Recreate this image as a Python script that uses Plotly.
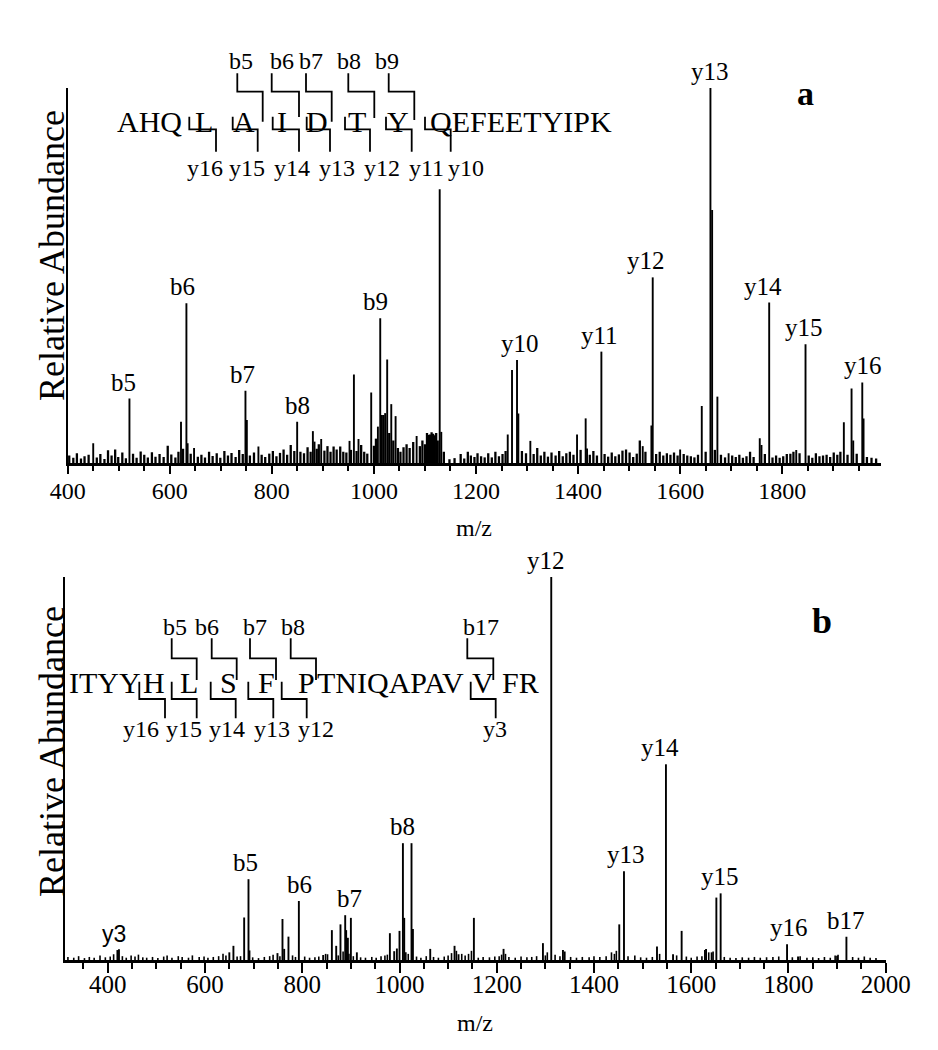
import plotly.graph_objects as go

# ---------------- Panel a data ----------------
a_peak_mz = [450, 521, 622, 632.6, 635, 647.6, 748.3, 751, 773.7, 849.6, 880.4, 883.6, 896.7,
             952.2, 960.8, 969.8, 994.7, 1007.8, 1012.4, 1015.7, 1018.8, 1022, 1026, 1034, 1042.5,
             1083.7, 1128.9, 1132, 1262.2, 1270.6, 1280.4, 1283, 1306.5, 1398, 1414.9, 1417.6,
             1445.7, 1526.7, 1543.7, 1546.3, 1600, 1642.4, 1659.4, 1662.7, 1673, 1695, 1756,
             1759.4, 1774.5, 1827.5, 1845.7, 1920.8, 1935.9, 1939.2, 1956.9, 1959.4]
a_peak_int = [5.3, 17.2, 11.0, 42.6, 5.3, 4.0, 19.3, 11.5, 4.4, 11.0, 8.5, 5.7, 6.4,
              5.9, 23.6, 6.4, 18.8, 9.7, 38.6, 12.8, 12.8, 13.3, 27.6, 15.7, 12.5,
              7.2, 73.0, 8.3, 7.6, 24.8, 27.5, 13.2, 5.9, 7.6, 11.9, 3.9,
              29.7, 4.5, 10.0, 49.5, 3.6, 15.2, 100.0, 67.5, 17.7, 2.6, 6.6,
              4.8, 42.8, 3.5, 31.7, 10.9, 19.9, 6.0, 21.5, 11.9]
a_noise_mz = [403, 411, 418, 426, 433, 441, 457, 464, 472, 479, 486, 493, 499, 507, 514, 528, 535,
              543, 550, 557, 565, 572, 580, 588, 596, 603, 611, 617, 626, 641, 655, 662, 669, 677,
              684, 692, 699, 707, 714, 721, 729, 736, 743, 757, 765, 780, 787, 795, 802, 809, 816,
              823, 830, 837, 844, 856, 863, 870, 876, 888, 892, 903, 909, 915, 921, 927, 934, 940,
              946, 955, 966, 975, 981, 987, 1000, 1004, 1030, 1038, 1047, 1052, 1058, 1064, 1070,
              1077, 1090, 1095, 1100, 1104, 1107, 1110, 1113, 1116, 1119, 1122, 1125, 1137, 1148,
              1158, 1170, 1177, 1184, 1190, 1197, 1203, 1210, 1217, 1224, 1231, 1238, 1245, 1252,
              1258, 1290, 1298, 1313, 1320, 1327, 1334, 1341, 1348, 1356, 1363, 1370, 1377, 1384,
              1391, 1405, 1423, 1430, 1437, 1452, 1459, 1466, 1473, 1480, 1487, 1494, 1501, 1508,
              1515, 1521, 1532, 1553, 1560, 1567, 1574, 1581, 1588, 1595, 1607, 1614, 1621, 1628,
              1635, 1650, 1668, 1680, 1688, 1702, 1709, 1716, 1723, 1730, 1737, 1744, 1766, 1781,
              1788, 1795, 1802, 1809, 1816, 1822, 1834, 1852, 1859, 1866, 1873, 1880, 1887, 1894,
              1901, 1908, 1914, 1928, 1946, 1966, 1975, 1984]
a_noise_int = [2.0, 1.4, 2.6, 1.2, 1.8, 2.2, 1.5, 2.4, 1.1, 3.4, 2.0, 3.6, 1.6, 2.8, 1.3, 2.5, 1.4,
               3.1, 2.2, 1.5, 2.9, 1.7, 2.4, 1.6, 4.6, 2.3, 1.5, 3.0, 3.8, 2.5, 1.7, 2.2, 1.5, 3.0,
               1.9, 2.6, 1.4, 3.2, 2.0, 2.7, 1.6, 3.5, 2.4, 2.0, 2.8, 2.2, 1.6, 2.5, 3.2, 1.8, 2.7,
               3.6, 2.2, 4.8, 3.2, 3.0, 2.6, 4.2, 3.0, 3.8, 5.0, 3.3, 4.5, 3.0, 4.4, 3.6, 4.4, 3.0,
               2.8, 3.5, 3.2, 4.8, 3.0, 2.5, 4.6, 6.5, 8.0, 6.0, 4.0, 3.0, 4.2, 5.0, 4.0,
               5.6, 4.5, 6.0, 5.0, 8.0, 7.5, 7.6, 8.2, 7.8, 7.4, 8.0, 6.0, 3.0, 1.0,
               1.3, 2.4, 1.2, 3.0, 2.0, 1.6, 2.6, 1.8, 1.5, 2.6, 1.5, 3.0, 1.8, 2.4,
               3.2, 3.2, 2.6, 2.4, 4.0, 2.0, 3.0, 1.7, 2.8, 2.0, 3.2, 1.8, 2.6, 3.0,
               2.2, 3.5, 2.2, 3.2, 2.0, 2.4, 1.7, 2.8, 1.8, 2.3, 3.3, 3.6, 2.8, 1.6,
               2.5, 6.0, 3.0, 2.4, 3.0, 2.0, 2.6, 2.2, 2.8, 2.0, 2.4, 2.0, 1.8, 1.5,
               2.2, 3.0, 3.5, 2.2, 1.5, 2.0, 1.6, 2.2, 1.4, 1.8, 3.0, 1.6, 2.4, 1.5,
               2.0, 1.4, 1.8, 2.4, 2.5, 3.0, 2.6, 2.0, 1.4, 2.6, 1.8, 2.0, 2.2, 1.6,
               2.8, 2.2, 3.0, 2.2, 2.5, 1.6, 1.4, 1.2]
a_labels = ["b5", "b6", "b7", "b8", "b9", "y10", "y11", "y12", "y13", "y14", "y15", "y16"]
a_label_mz = [521, 632.6, 748.3, 849.6, 1012.4, 1280.4, 1445.7, 1546.3, 1659.4, 1774.5, 1845.7, 1956.9]
a_ticks = [400, 600, 800, 1000, 1200, 1400, 1600, 1800]

# ---------------- Panel b data ----------------
b_peak_mz = [419.8, 423, 650, 658.4, 680.5, 689.4, 691.4, 749, 759.3, 762.8, 771.6, 793, 843,
             860.9, 869.8, 878.6, 888.3, 890.3, 893.8, 900, 912.3, 980.2, 989.1, 994.6, 1000,
             1007, 1009.7, 1024.7, 1027.6, 1063.2, 1113.2, 1121.4, 1153, 1214, 1295, 1312.1,
             1336.2, 1452, 1461.7, 1529.6, 1548, 1562.6, 1580.3, 1630.5, 1642, 1651.7, 1660.5,
             1797.1, 1819.7, 1900, 1919.2]
b_peak_int = [2.6, 2.8, 2.0, 3.7, 11.1, 21.1, 2.5, 1.8, 10.7, 2.9, 6.1, 15.4, 1.3,
              7.8, 3.7, 9.3, 11.7, 7.8, 5.8, 11.0, 2.0, 7.0, 2.3, 3.0, 7.6,
              30.5, 11.0, 30.5, 8.1, 2.9, 3.7, 1.5, 11.0, 2.9, 4.4, 100.0,
              2.6, 9.3, 23.2, 3.5, 51.1, 1.5, 7.6, 2.9, 2.0, 16.3, 17.4,
              4.1, 0.9, 1.1, 6.1]
b_noise_mz = [318, 330, 340, 352, 362, 372, 384, 395, 405, 412, 430, 438, 448, 456, 463, 472, 480,
              492, 503, 515, 522, 532, 545, 553, 566, 574, 588, 598, 606, 617, 628, 637, 643, 666,
              673, 698, 710, 722, 733, 740, 754, 780, 786, 805, 815, 826, 834, 848, 852, 874, 884,
              896, 905, 920, 930, 943, 952, 962, 970, 975, 1013, 1018, 1035, 1044, 1055, 1070, 1080,
              1092, 1100, 1107, 1117, 1128, 1135, 1142, 1148, 1162, 1172, 1185, 1196, 1205, 1210,
              1218, 1225, 1238, 1250, 1262, 1272, 1282, 1300, 1304, 1320, 1330, 1340, 1352, 1364,
              1376, 1390, 1400, 1412, 1425, 1436, 1442, 1446, 1470, 1484, 1496, 1508, 1520, 1535,
              1570, 1590, 1600, 1612, 1622, 1628, 1636, 1645, 1668, 1680, 1692, 1705, 1718, 1730,
              1742, 1755, 1768, 1780, 1808, 1824, 1838, 1850, 1862, 1874, 1886, 1896, 1902, 1932,
              1944, 1956, 1968, 1980]
b_noise_int = [0.8, 0.6, 1.0, 0.5, 0.8, 0.6, 1.2, 0.7, 0.9, 1.5, 1.0, 0.6, 1.2, 0.9, 1.4, 0.7, 0.6,
               0.8, 0.5, 0.9, 1.2, 0.6, 1.0, 0.8, 0.6, 1.2, 0.8, 0.9, 0.6, 0.8, 1.0, 1.6, 1.2, 0.9,
               1.0, 0.7, 0.5, 0.8, 1.0, 1.4, 1.0, 1.2, 0.8, 0.9, 0.6, 0.7, 0.9, 1.6, 1.5, 1.2, 2.2,
               1.6, 1.0, 0.7, 0.6, 0.8, 0.6, 1.0, 1.2, 1.4, 2.0, 1.6, 0.9, 0.6, 1.0, 0.8, 0.6,
               0.9, 1.2, 1.8, 2.4, 1.6, 1.2, 1.6, 2.4, 0.6, 0.8, 0.7, 0.9, 1.0, 1.4,
               1.6, 0.8, 0.6, 0.9, 0.7, 0.8, 1.0, 1.2, 2.0, 1.4, 1.0, 2.2, 0.8, 0.6,
               0.8, 0.7, 1.0, 0.8, 1.0, 2.0, 1.6, 2.4, 1.0, 1.2, 0.7, 0.6, 0.8, 1.6,
               1.2, 0.9, 0.6, 0.9, 1.0, 2.6, 2.0, 2.2, 0.8, 0.6, 0.5, 0.7, 0.6, 0.8,
               0.6, 0.7, 0.8, 0.9, 0.7, 1.0, 0.6, 0.7, 0.5, 0.8, 0.6, 1.2, 1.4, 0.8,
               0.6, 0.9, 0.6, 0.5]
b_labels = ["y3", "b5", "b6", "b7", "b8", "y12", "y13", "y14", "y15", "y16", "b17"]
b_label_mz = [419.8, 689.4, 793, 888.3, 1007, 1312.1, 1461.7, 1548, 1660.5, 1797.1, 1919.2]
b_ticks = [400, 600, 800, 1000, 1200, 1400, 1600, 1800, 2000]

# ---------------- sequence diagrams ----------------
seq_a_text = ["AHQ", "L", "A", "I", "D", "T", "Y", "QEFEETYIPK"]
seq_b_text = ["ITYY", "H", "L", "S", "F", "P", "TNIQAPAV", "V", "FR"]
seq_a_b_ions = ["b5", "b6", "b7", "b8", "b9"]
seq_a_y_ions = ["y16", "y15", "y14", "y13", "y12", "y11", "y10"]
seq_b_b_ions = ["b5", "b6", "b7", "b8", "b17"]
seq_b_y_ions = ["y16", "y15", "y14", "y13", "y12", "y3"]

# ---------------- layout geometry (screen pixels) ----------------
SERIF = "Liberation Serif"
SANS = "Liberation Sans"
OFF = 8                      # default page body margin
FW, FH = 938 - OFF, 1050 - OFF


def P(px):
    return (px - OFF) / FW


def Q(py):
    return 1 - (py - OFF) / FH


seq_a_x = [149, 204, 244, 282, 317, 356.5, 398, 521]
seq_a_base = 131.7
seq_a_bx = [(237.3, 262.7, 121.7), (271.7, 299, 117), (306, 331.7, 121.7), (348.3, 374.3, 118), (388.7, 414.3, 120)]
seq_a_blab_x = [240.7, 282, 310.7, 349, 386.7]
seq_a_yx = [(189.3, 216), (232.7, 257.7), (272.7, 299), (306.7, 330), (345, 370), (386, 411.7), (425, 450.7)]
seq_a_ylab_x = [205, 246.7, 291.7, 337, 381.7, 426.7, 465.7]

seq_b_x = [105, 154, 189, 228.3, 266.7, 306.7, 390.8, 483.3, 520]
seq_b_base = 692.7
seq_b_bx = [(171.7, 196.7, 680), (211.7, 236.7, 680), (250, 276, 680), (290.7, 316, 680), (467.3, 493.3, 680)]
seq_b_blab_x = [175, 206.7, 255, 293.3, 480.7]
seq_b_yx = [(139.3, 165), (171.7, 196.7), (210.7, 235.7), (248.3, 273.3), (281.7, 306.7), (470.7, 495.7)]
seq_b_ylab_x = [141, 184, 227, 272, 315.7, 495]


def sticks(mz, inten):
    xs, ys = [], []
    for m, v in zip(mz, inten):
        xs += [m, m, None]
        ys += [0, v, None]
    return xs, ys


fig = go.Figure()

for mz, it, xa, ya, wd in [
    (a_noise_mz, a_noise_int, "x", "y", 2.3),
    (a_peak_mz, a_peak_int, "x", "y", 1.9),
    (b_noise_mz, b_noise_int, "x2", "y2", 1.6),
    (b_peak_mz, b_peak_int, "x2", "y2", 1.9),
]:
    xs, ys = sticks(mz, it)
    fig.add_trace(go.Scatter(x=xs, y=ys, mode="lines", xaxis=xa, yaxis=ya,
                             line=dict(color="black", width=wd), showlegend=False,
                             hoverinfo="skip"))

annotations = []
shapes = []

a_lookup = dict(zip(a_peak_mz, a_peak_int))
a_xshift = {"b5": -6, "b6": -4, "b7": -3, "b8": 0, "b9": -5, "y10": 3, "y11": -2,
            "y12": -7, "y13": 0, "y14": -6, "y15": -2, "y16": 1}
for lab, m in zip(a_labels, a_label_mz):
    annotations.append(dict(x=m, y=a_lookup[m], xref="x", yref="y", text=lab, showarrow=False,
                            yanchor="bottom", xanchor="center", xshift=a_xshift[lab], yshift=1,
                            font=dict(family=SERIF, size=25, color="black")))

b_lookup = dict(zip(b_peak_mz, b_peak_int))
b_xshift = {"y3": -3, "b5": -3, "b6": 1, "b7": 4, "b8": 0, "y12": -5, "y13": 2, "y14": -6,
            "y15": -1, "y16": 2, "b17": 0}
for lab, m in zip(b_labels, b_label_mz):
    annotations.append(dict(x=m, y=b_lookup[m], xref="x2", yref="y2", text=lab, showarrow=False,
                            yanchor="bottom", xanchor="center", xshift=b_xshift[lab], yshift=1,
                            font=dict(family=SANS if lab == "y3" else SERIF,
                                      size=23 if lab == "y3" else 25, color="black")))


def text_at(px, baseline, txt, size, family=SERIF, bold=False):
    center = baseline - 0.34 * size
    t = f"<b>{txt}</b>" if bold else txt
    annotations.append(dict(x=P(px), y=Q(center), xref="paper", yref="paper", text=t,
                            showarrow=False, xanchor="center", yanchor="middle",
                            font=dict(family=family, size=size, color="black")))


def path(points):
    d = "M " + " L ".join(f"{P(x)},{Q(y)}" for x, y in points)
    shapes.append(dict(type="path", path=d, xref="paper", yref="paper",
                       line=dict(color="black", width=1.8)))


for t, x in zip(seq_a_text, seq_a_x):
    text_at(x, seq_a_base, t, 30)
for lab, (xl, xr, yb), lx in zip(seq_a_b_ions, seq_a_bx, seq_a_blab_x):
    path([(xl, 73.3), (xl, 91.7), (xr, 91.7), (xr, yb)])
    text_at(lx, 69.3, lab, 24)
for lab, (xl, xr), lx in zip(seq_a_y_ions, seq_a_yx, seq_a_ylab_x):
    path([(xl, 116.7), (xl, 129.3), (xr, 129.3), (xr, 151.7)])
    text_at(lx, 176, lab, 24)

for t, x in zip(seq_b_text, seq_b_x):
    text_at(x, seq_b_base, t, 30)
for lab, (xl, xr, yb), lx in zip(seq_b_b_ions, seq_b_bx, seq_b_blab_x):
    path([(xl, 638.3), (xl, 658.3), (xr, 658.3), (xr, yb)])
    text_at(lx, 635, lab, 24)
for lab, (xl, xr), lx in zip(seq_b_y_ions, seq_b_yx, seq_b_ylab_x):
    path([(xl, 681.7), (xl, 699), (xr, 699), (xr, 718.3)])
    text_at(lx, 737, lab, 24)

text_at(805, 105, "a", 34, bold=True)
text_at(822, 633, "b", 36, bold=True)

text_at(474, 536, "m/z", 24)
text_at(475, 1031, "m/z", 24)
for yc in (256, 752):
    annotations.append(dict(x=P(52), y=Q(yc), xref="paper", yref="paper",
                            text="Relative Abundance", textangle=-90, showarrow=False,
                            xanchor="center", yanchor="middle",
                            font=dict(family=SERIF, size=36, color="black")))

axis_common = dict(showgrid=False, zeroline=False, showline=True, linecolor="black",
                   ticks="outside", tickcolor="black", fixedrange=True, automargin=False)

fig.update_layout(
    template="none",
    width=FW, height=FH, autosize=False,
    margin=dict(l=0, r=0, t=0, b=0, pad=0),
    paper_bgcolor="white", plot_bgcolor="white",
    showlegend=False, hovermode=False,
    xaxis=dict(domain=[P(67.7), P(880.7)], range=[400, 1993], anchor="y",
               tickvals=a_ticks, ticklen=8, tickwidth=2, linewidth=2.5,
               ticklabelstandoff=-4,
               minor=dict(ticks="outside", ticklen=5, tickwidth=1.5, dtick=50, tick0=400,
                          tickcolor="black", showgrid=False),
               tickfont=dict(family=SERIF, size=24, color="black"), **axis_common),
    yaxis=dict(domain=[Q(463), Q(88)], range=[0, 100], anchor="x", showticklabels=False,
               showgrid=False, zeroline=False, showline=True, linecolor="black", linewidth=2,
               ticks="", fixedrange=True, automargin=False),
    xaxis2=dict(domain=[P(65), P(885.7)], range=[312, 2000], anchor="y2",
                tickvals=b_ticks, ticklen=10, tickwidth=2, linewidth=2.5,
                ticklabelstandoff=-10,
                minor=dict(ticks="outside", ticklen=6, tickwidth=1.5, dtick=50, tick0=350,
                           tickcolor="black", showgrid=False),
                tickfont=dict(family=SERIF, size=25, color="black"), **axis_common),
    yaxis2=dict(domain=[Q(960), Q(577)], range=[0, 100], anchor="x2", showticklabels=False,
                showgrid=False, zeroline=False, showline=True, linecolor="black", linewidth=2,
                ticks="", fixedrange=True, automargin=False),
    annotations=annotations,
    shapes=shapes,
)

fig.write_html("out.html")
